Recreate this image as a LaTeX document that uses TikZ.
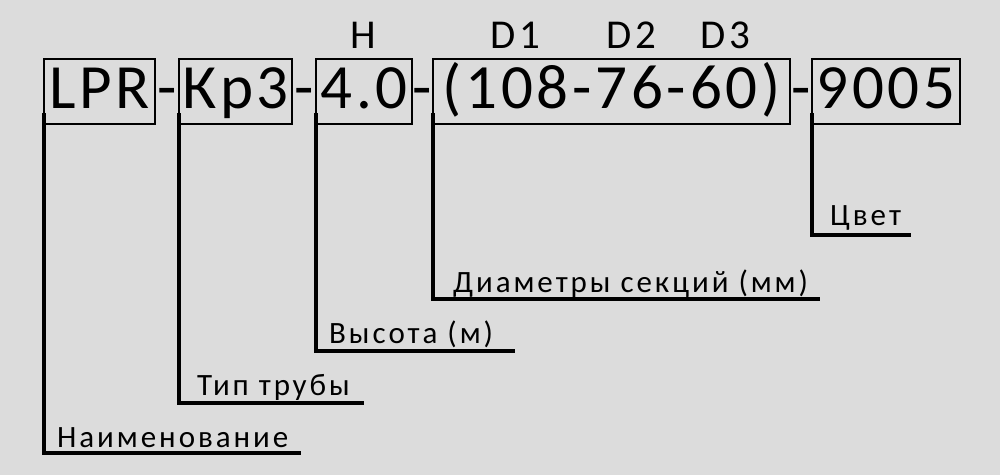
\documentclass[tikz,border=0pt]{standalone}
\usepackage{fontspec}
\setmainfont{Carlito}[LetterSpace=6]
\definecolor{bg}{RGB}{220,220,220}
\begin{document}
\begin{tikzpicture}[x=1pt,y=-1pt,
  codebox/.style={draw=black,line width=2pt,inner sep=0pt,minimum height=65pt},
  codetxt/.style={anchor=base,inner sep=0pt,font=\fontsize{63}{70}\selectfont},
  dashtxt/.style={anchor=base,inner sep=0pt,font=\fontsize{63}{70}\selectfont\addfontfeatures{LetterSpace=0}},
  toplbl/.style={anchor=base,inner sep=0pt,font=\fontsize{41}{48}\selectfont\addfontfeatures{LetterSpace=9}},
  lbl/.style={anchor=base west,inner sep=0pt,font=\fontsize{31}{36}\selectfont\addfontfeatures{LetterSpace=9.5}},
  leader/.style={line width=4pt,line cap=rect}]
\fill[bg] (0,0) rectangle (1000,475);
\useasboundingbox (0,0) rectangle (1000,475);
% boxes
\node[codebox,minimum width=111pt] (b1) at (99.5,91) {};
\node[codebox,minimum width=113pt] (b2) at (235.5,91) {};
\node[codebox,minimum width=96pt] (b3) at (364,91) {};
\node[codebox,minimum width=357pt] (b4) at (611.5,91) {};
\node[codebox,minimum width=148pt] (b5) at (886,91) {};
% texts
\node[codetxt] (t1) at (99.5,108) {LPR};
\node[codetxt] (t2) at (235.5,108) {Кр3};
\node[codetxt] (t3) at (364,108) {4.0};
\node[codetxt] (t4) at (611.5,108) {(108-76-60)};
\node[codetxt] (t5) at (886,108) {9005};
% dashes
\node[dashtxt] (d1) at (167,108) {-};
\node[dashtxt] (d2) at (304,108) {-};
\node[dashtxt] (d3) at (422.5,108) {-};
\node[dashtxt] (d4) at (801,108) {-};
% top labels
\node[toplbl] (h) at (363,48) {H};
\node[toplbl] (D1) at (515,48) {D1};
\node[toplbl] (D2) at (631,48) {D2};
\node[toplbl] (D3) at (725,48) {D3};
% leader end points
\coordinate (e1) at (299,453);
\coordinate (e2) at (362,403);
\coordinate (e3) at (513,351);
\coordinate (e4) at (818,299);
\coordinate (e5) at (909,235);
\draw[leader] ([xshift=1pt,yshift=10pt]b1.south west) |- (e1);
\draw[leader] ([xshift=1pt,yshift=10pt]b2.south west) |- (e2);
\draw[leader] ([xshift=1pt,yshift=10pt]b3.south west) |- (e3);
\draw[leader] ([xshift=1pt,yshift=10pt]b4.south west) |- (e4);
\draw[leader] ([xshift=1pt,yshift=10pt]b5.south west) |- (e5);
% labels
\node[lbl] (l1) at (57,447) {Наименование};
\node[lbl] (l2) at (197,395) {Тип трубы};
\node[lbl] (l3) at (329,343) {Высота (м)};
\node[lbl] (l4) at (453,292) {Диаметры секций (мм)};
\node[lbl] (l5) at (830,225) {Цвет};
\end{tikzpicture}
\end{document}
